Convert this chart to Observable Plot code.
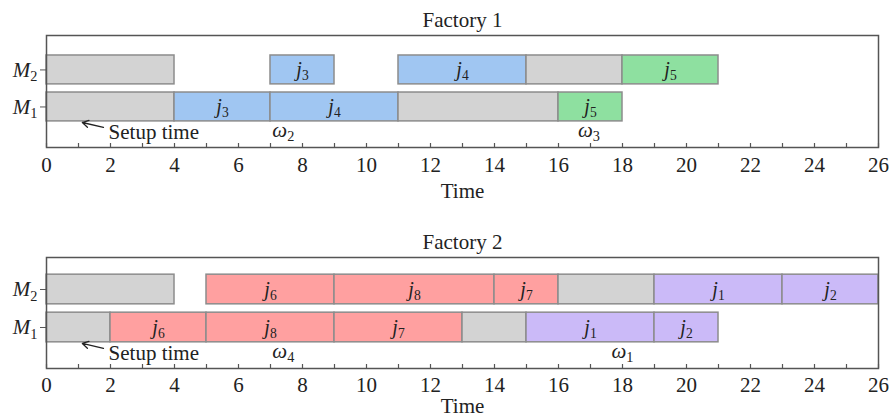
<!DOCTYPE html>
<html><head><meta charset="utf-8">
<script src="https://cdn.jsdelivr.net/npm/d3@7"></script>
<script src="https://cdn.jsdelivr.net/npm/@observablehq/plot@0.6"></script>
<style>html,body{margin:0;padding:0;background:#fff;} svg{display:block;}</style>
</head><body><div id="chart"></div>
<script>
// ---------- data ----------
const machineTicks = [1, 2];                 // M1, M2
const machineLabels = ["M_1", "M_2"];
const jobGroups = ["setup", "A", "B", "C", "D"];
const groupColors = ["#d3d3d3", "#a0c6f2", "#8ee0a0", "#ffa0a0", "#cbbaf8"];
// [start, end, job, group]
const factory1M2 = [[0,4,"","setup"],[7,9,"j_3","A"],[11,15,"j_4","A"],[15,18,"","setup"],[18,21,"j_5","B"]];
const factory1M1 = [[0,4,"","setup"],[4,7,"j_3","A"],[7,11,"j_4","A"],[11,16,"","setup"],[16,18,"j_5","B"]];
const factory2M2 = [[0,4,"","setup"],[5,9,"j_6","C"],[9,14,"j_8","C"],[14,16,"j_7","C"],[16,19,"","setup"],[19,23,"j_1","D"],[23,26,"j_2","D"]];
const factory2M1 = [[0,2,"","setup"],[2,5,"j_6","C"],[5,9,"j_8","C"],[9,13,"j_7","C"],[13,15,"","setup"],[15,19,"j_1","D"],[19,21,"j_2","D"]];
const timeTicks = d3.range(0, 27, 2);
const minorTicks = d3.range(0, 27, 1);
const factory1Omega = [[7.4, "ω_2"], [16.95, "ω_3"]];
const factory2Omega = [[7.4, "ω_4"], [18.0, "ω_1"]];
const setupArrow = [{x1: 1.78, y1: 0.45, x2: 1.12, y2: 0.58}];
const setupLabel = [{x: 1.94, y: 0.31, text: "Setup time"}];
const titles = ["Factory 1", "Factory 2"];

// ---------- drawing ----------
function rowsOf(m1, m2) {
  return [
    ...m2.map(([s, e, j, g]) => ({start: s, end: e, job: j, group: g, m: 2})),
    ...m1.map(([s, e, j, g]) => ({start: s, end: e, job: j, group: g, m: 1}))
  ];
}

function subscriptify(svg) {
  svg.querySelectorAll("text").forEach(t => {
    const s = t.textContent;
    if (!s.includes("_")) return;
    const [base, sub] = s.split("_");
    t.textContent = "";
    const a = document.createElementNS("http://www.w3.org/2000/svg", "tspan");
    a.setAttribute("font-style", "italic");
    a.textContent = base;
    const b = document.createElementNS("http://www.w3.org/2000/svg", "tspan");
    b.style.fontSize = "0.68em";
    b.setAttribute("dy", "0.3em");
    b.textContent = sub;
    t.append(a, b);
  });
}

function panel(title, m1, m2, omegas, cfg) {
  const rows = rowsOf(m1, m2);
  const H = cfg.height - cfg.marginTop - cfg.marginBottom;
  const svg = Plot.plot({
    width: 890,
    height: cfg.height,
    marginTop: cfg.marginTop,
    marginBottom: cfg.marginBottom,
    marginLeft: 46,
    marginRight: 12,
    style: {fontFamily: "'Liberation Serif', 'Times New Roman', serif", fontSize: "21px", color: "#222", background: "#fff"},
    x: {domain: [0, 26], axis: null},
    y: {domain: cfg.yDomain, axis: null},
    color: {domain: jobGroups, range: groupColors},
    marks: [
      Plot.rect(rows, {x1: "start", x2: "end", y1: d => d.m - 0.39, y2: d => d.m + 0.39, fill: "group", stroke: "#8c8c8c", strokeWidth: 1.5}),
      Plot.text(rows.filter(d => d.job), {x: d => (d.start + d.end) / 2, y: "m", text: "job", fontSize: 20, fill: "#222"}),
      Plot.text(omegas, {x: d => d[0], y: 0.38, text: d => d[1], fontSize: 21, fill: "#222"}),
      Plot.arrow(setupArrow, {x1: "x1", y1: "y1", x2: "x2", y2: "y2", stroke: "#222", strokeWidth: 1.3, headLength: 8}),
      Plot.text(setupLabel, {x: "x", y: "y", text: "text", textAnchor: "start", fontSize: 21, fill: "#222"}),
      Plot.frame({stroke: "#555", strokeWidth: 1.5}),
      Plot.tickX(minorTicks, {x: d => d, insetTop: H - 4, stroke: "#555", strokeWidth: 1.2}),
      Plot.axisX({ticks: timeTicks, tickSize: 0, tickPadding: cfg.tickPadding, fontSize: 21, label: null}),
      Plot.axisY({ticks: machineTicks, tickFormat: d => machineLabels[machineTicks.indexOf(d)], tickSize: 6, tickPadding: 3, fontSize: 21, label: null, stroke: "#555"}),
      Plot.text(["Time"], {text: d => d, frameAnchor: "bottom", dy: cfg.timeDy, lineAnchor: "top", fontSize: 21, fill: "#222"}),
      Plot.text([title], {text: d => d, frameAnchor: "top", dy: -15, lineAnchor: "middle", fontSize: 21, fill: "#222"})
    ]
  });
  subscriptify(svg);
  return svg;
}

const chart = document.getElementById("chart");
chart.append(panel(titles[0], factory1M1, factory1M2, factory1Omega,
  {height: 209, marginTop: 35, marginBottom: 62, yDomain: [-0.095, 2.93], tickPadding: 10, timeDy: 36}));
chart.append(panel(titles[1], factory2M1, factory2M2, factory2Omega,
  {height: 209, marginTop: 48, marginBottom: 50, yDomain: [-0.079, 2.842], tickPadding: 9, timeDy: 30}));
</script>
</body></html>
